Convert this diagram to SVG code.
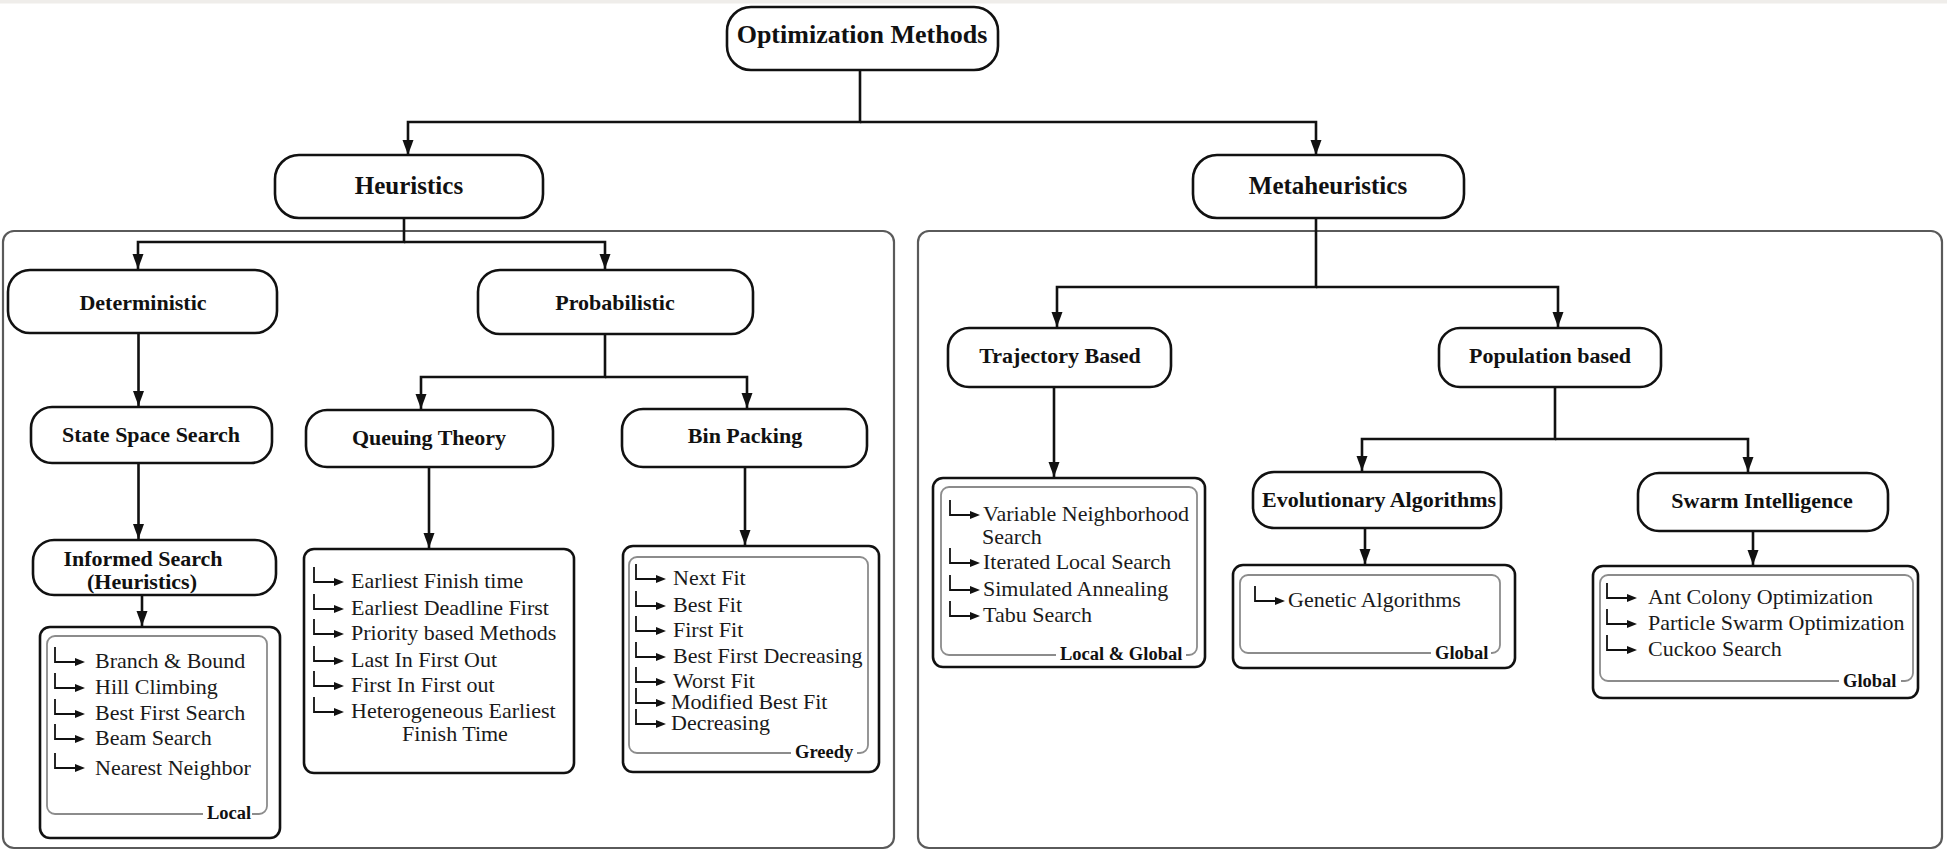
<svg xmlns="http://www.w3.org/2000/svg" xmlns:xlink="http://www.w3.org/1999/xlink" width="1947" height="851" viewBox="0 0 1947 851">
  <style>
    .node { fill: #ffffff; stroke: #111111; stroke-width: 2.6; }
    .panel { fill: #ffffff; stroke: #5a5a5a; stroke-width: 2.2; }
    .list { fill: #ffffff; stroke: #111111; stroke-width: 2.6; }
    .inner { fill: none; stroke: #8c8c8c; stroke-width: 1.8; }
    .edge { fill: none; stroke: #111111; stroke-width: 2.6; }
    .title { font-family: "Liberation Serif", "Times New Roman", serif; font-weight: bold; fill: #111111; text-anchor: middle; }
    .t26 { font-size: 26px; }
    .t25 { font-size: 25px; }
    .t22 { font-size: 22px; }
    .item { font-family: "Liberation Serif", "Times New Roman", serif; font-size: 22px; fill: #1a1a1a; }
    .tag { font-family: "Liberation Serif", "Times New Roman", serif; font-size: 18.5px; font-weight: bold; fill: #111111; }
    .tagbg { fill: #ffffff; stroke: none; }
  </style>
  <defs>
    <marker id="arrow" markerUnits="userSpaceOnUse" markerWidth="16" markerHeight="12" refX="15" refY="5.5" orient="auto">
      <path d="M0,0 L15,5.5 L0,11 z" fill="#111111"/>
    </marker>
    <!-- elbow bullet used in the item lists -->
    <g id="bullet">
      <path d="M0,0 V15 H21" fill="none" stroke="#111111" stroke-width="1.8"/>
      <path d="M20,11 L30,15 L20,19 z" fill="#111111"/>
    </g>
  </defs>

  <rect x="0" y="0" width="1947" height="851" fill="#ffffff"/>
  <rect x="0" y="0" width="1947" height="3.5" fill="#efedea"/>

  <!-- section panels -->
  <g id="panel-heuristics">
    <rect class="panel" x="3" y="231" width="891" height="617" rx="11"/>
  </g>
  <g id="panel-metaheuristics">
    <rect class="panel" x="918" y="231" width="1024" height="617" rx="11"/>
  </g>

  <!-- connectors -->
  <g id="connectors">
    <path class="edge" d="M860,70 V122 H408 V155" marker-end="url(#arrow)"/>
    <path class="edge" d="M860,122 H1316 V155" marker-end="url(#arrow)"/>

    <path class="edge" d="M404,218 V242 H138 V269" marker-end="url(#arrow)"/>
    <path class="edge" d="M404,242 H605 V269" marker-end="url(#arrow)"/>
    <path class="edge" d="M138.5,333 V406" marker-end="url(#arrow)"/>
    <path class="edge" d="M138.5,463 V539" marker-end="url(#arrow)"/>
    <path class="edge" d="M142,595 V626" marker-end="url(#arrow)"/>

    <path class="edge" d="M605,334 V377 H421 V409" marker-end="url(#arrow)"/>
    <path class="edge" d="M605,377 H747 V408" marker-end="url(#arrow)"/>
    <path class="edge" d="M429,467 V548" marker-end="url(#arrow)"/>
    <path class="edge" d="M745,467 V545" marker-end="url(#arrow)"/>

    <path class="edge" d="M1316,218 V287 H1057 V327" marker-end="url(#arrow)"/>
    <path class="edge" d="M1316,287 H1558 V327" marker-end="url(#arrow)"/>
    <path class="edge" d="M1054,387 V477" marker-end="url(#arrow)"/>
    <path class="edge" d="M1555,387 V439 H1362 V471" marker-end="url(#arrow)"/>
    <path class="edge" d="M1555,439 H1748 V472" marker-end="url(#arrow)"/>
    <path class="edge" d="M1365,528 V564" marker-end="url(#arrow)"/>
    <path class="edge" d="M1753,531 V565" marker-end="url(#arrow)"/>
  </g>

  <g id="optimization-methods">
    <rect class="node" x="727" y="7" width="271" height="63" rx="24"/>
    <text class="title t26" x="862" y="43">Optimization Methods</text>
  </g>

  <g id="heuristics">
    <rect class="node" x="275" y="155" width="268" height="63" rx="24"/>
    <text class="title t25" x="409" y="194">Heuristics</text>
  </g>

  <g id="metaheuristics">
    <rect class="node" x="1193" y="155" width="271" height="63" rx="24"/>
    <text class="title t25" x="1328" y="194">Metaheuristics</text>
  </g>

  <g id="deterministic">
    <rect class="node" x="8" y="270" width="269" height="63" rx="22"/>
    <text class="title t22" x="143" y="310">Deterministic</text>
  </g>

  <g id="probabilistic">
    <rect class="node" x="478" y="270" width="275" height="64" rx="22"/>
    <text class="title t22" x="615" y="310">Probabilistic</text>
  </g>

  <g id="state-space-search">
    <rect class="node" x="31" y="407" width="241" height="56" rx="21"/>
    <text class="title t22" x="151" y="442">State Space Search</text>
  </g>

  <g id="informed-search">
    <rect class="node" x="33" y="540" width="243" height="55" rx="21"/>
    <text class="title t22" x="143" y="566">Informed Search</text>
    <text class="title t22" x="142" y="589">(Heuristics)</text>
  </g>

  <g id="informed-search-list">
    <rect class="list" x="40" y="627" width="240" height="211" rx="10"/>
    <rect class="inner" x="47" y="636" width="220" height="178" rx="8"/>
    <rect class="tagbg" x="203" y="806" width="49" height="14"/>
    <text class="tag" x="207" y="819">Local</text>
    <use xlink:href="#bullet" x="55" y="647"/>
    <text class="item" x="95" y="668">Branch &amp; Bound</text>
    <use xlink:href="#bullet" x="55" y="673"/>
    <text class="item" x="95" y="694">Hill Climbing</text>
    <use xlink:href="#bullet" x="55" y="699"/>
    <text class="item" x="95" y="720">Best First Search</text>
    <use xlink:href="#bullet" x="55" y="724"/>
    <text class="item" x="95" y="745">Beam Search</text>
    <use xlink:href="#bullet" x="55" y="753"/>
    <text class="item" x="95" y="775">Nearest Neighbor</text>
  </g>

  <g id="queuing-theory">
    <rect class="node" x="306" y="410" width="247" height="57" rx="21"/>
    <text class="title t22" x="429" y="445">Queuing Theory</text>
  </g>

  <g id="queuing-theory-list">
    <rect class="list" x="304" y="549" width="270" height="224" rx="10"/>
    <use xlink:href="#bullet" x="314" y="567"/>
    <text class="item" x="351" y="588">Earliest Finish time</text>
    <use xlink:href="#bullet" x="314" y="594"/>
    <text class="item" x="351" y="615">Earliest Deadline First</text>
    <use xlink:href="#bullet" x="314" y="619"/>
    <text class="item" x="351" y="640">Priority based Methods</text>
    <use xlink:href="#bullet" x="314" y="646"/>
    <text class="item" x="351" y="667">Last In First Out</text>
    <use xlink:href="#bullet" x="314" y="671"/>
    <text class="item" x="351" y="692">First In First out</text>
    <use xlink:href="#bullet" x="314" y="697"/>
    <text class="item" x="351" y="718">Heterogeneous Earliest</text>
    <text class="item" x="455" y="741" text-anchor="middle">Finish Time</text>
  </g>

  <g id="bin-packing">
    <rect class="node" x="622" y="409" width="245" height="58" rx="21"/>
    <text class="title t22" x="745" y="443">Bin Packing</text>
  </g>

  <g id="bin-packing-list">
    <rect class="list" x="623" y="546" width="256" height="226" rx="10"/>
    <rect class="inner" x="629" y="557" width="239" height="196" rx="8"/>
    <rect class="tagbg" x="791" y="745" width="66" height="14"/>
    <text class="tag" x="795" y="758">Greedy</text>
    <use xlink:href="#bullet" x="636" y="564"/>
    <text class="item" x="673" y="585">Next Fit</text>
    <use xlink:href="#bullet" x="636" y="591"/>
    <text class="item" x="673" y="612">Best Fit</text>
    <use xlink:href="#bullet" x="636" y="616"/>
    <text class="item" x="673" y="637">First Fit</text>
    <use xlink:href="#bullet" x="636" y="642"/>
    <text class="item" x="673" y="663">Best First Decreasing</text>
    <use xlink:href="#bullet" x="636" y="667"/>
    <text class="item" x="673" y="688">Worst Fit</text>
    <use xlink:href="#bullet" x="636" y="688"/>
    <text class="item" x="671" y="709">Modified Best Fit</text>
    <use xlink:href="#bullet" x="636" y="709"/>
    <text class="item" x="671" y="730">Decreasing</text>
  </g>

  <g id="trajectory-based">
    <rect class="node" x="948" y="328" width="223" height="59" rx="21"/>
    <text class="title t22" x="1060" y="363">Trajectory Based</text>
  </g>

  <g id="trajectory-list">
    <rect class="list" x="933" y="478" width="272" height="189" rx="10"/>
    <rect class="inner" x="941" y="487" width="256" height="168" rx="8"/>
    <rect class="tagbg" x="1056" y="647" width="130" height="14"/>
    <text class="tag" x="1060" y="660">Local &amp; Global</text>
    <use xlink:href="#bullet" x="950" y="500"/>
    <text class="item" x="983" y="521">Variable Neighborhood</text>
    <text class="item" x="982" y="544">Search</text>
    <use xlink:href="#bullet" x="950" y="548"/>
    <text class="item" x="983" y="569">Iterated Local Search</text>
    <use xlink:href="#bullet" x="950" y="575"/>
    <text class="item" x="983" y="596">Simulated Annealing</text>
    <use xlink:href="#bullet" x="950" y="601"/>
    <text class="item" x="983" y="622">Tabu Search</text>
  </g>

  <g id="population-based">
    <rect class="node" x="1439" y="328" width="222" height="59" rx="21"/>
    <text class="title t22" x="1550" y="363">Population based</text>
  </g>

  <g id="evolutionary-algorithms">
    <rect class="node" x="1253" y="472" width="248" height="56" rx="21"/>
    <text class="title t22" x="1379" y="507">Evolutionary Algorithms</text>
  </g>

  <g id="evolutionary-list">
    <rect class="list" x="1233" y="565" width="282" height="103" rx="10"/>
    <rect class="inner" x="1240" y="575" width="260" height="78" rx="8"/>
    <rect class="tagbg" x="1431" y="645" width="60" height="14"/>
    <text class="tag" x="1435" y="659">Global</text>
    <use xlink:href="#bullet" x="1255" y="586"/>
    <text class="item" x="1288" y="607">Genetic Algorithms</text>
  </g>

  <g id="swarm-intelligence">
    <rect class="node" x="1638" y="473" width="250" height="58" rx="21"/>
    <text class="title t22" x="1762" y="508">Swarm Intelligence</text>
  </g>

  <g id="swarm-list">
    <rect class="list" x="1593" y="566" width="325" height="132" rx="10"/>
    <rect class="inner" x="1600" y="575" width="313" height="106" rx="8"/>
    <rect class="tagbg" x="1839" y="673" width="62" height="14"/>
    <text class="tag" x="1843" y="687">Global</text>
    <use xlink:href="#bullet" x="1607" y="583"/>
    <text class="item" x="1648" y="604">Ant Colony Optimization</text>
    <use xlink:href="#bullet" x="1607" y="609"/>
    <text class="item" x="1648" y="630">Particle Swarm Optimization</text>
    <use xlink:href="#bullet" x="1607" y="635"/>
    <text class="item" x="1648" y="656">Cuckoo Search</text>
  </g>
</svg>
